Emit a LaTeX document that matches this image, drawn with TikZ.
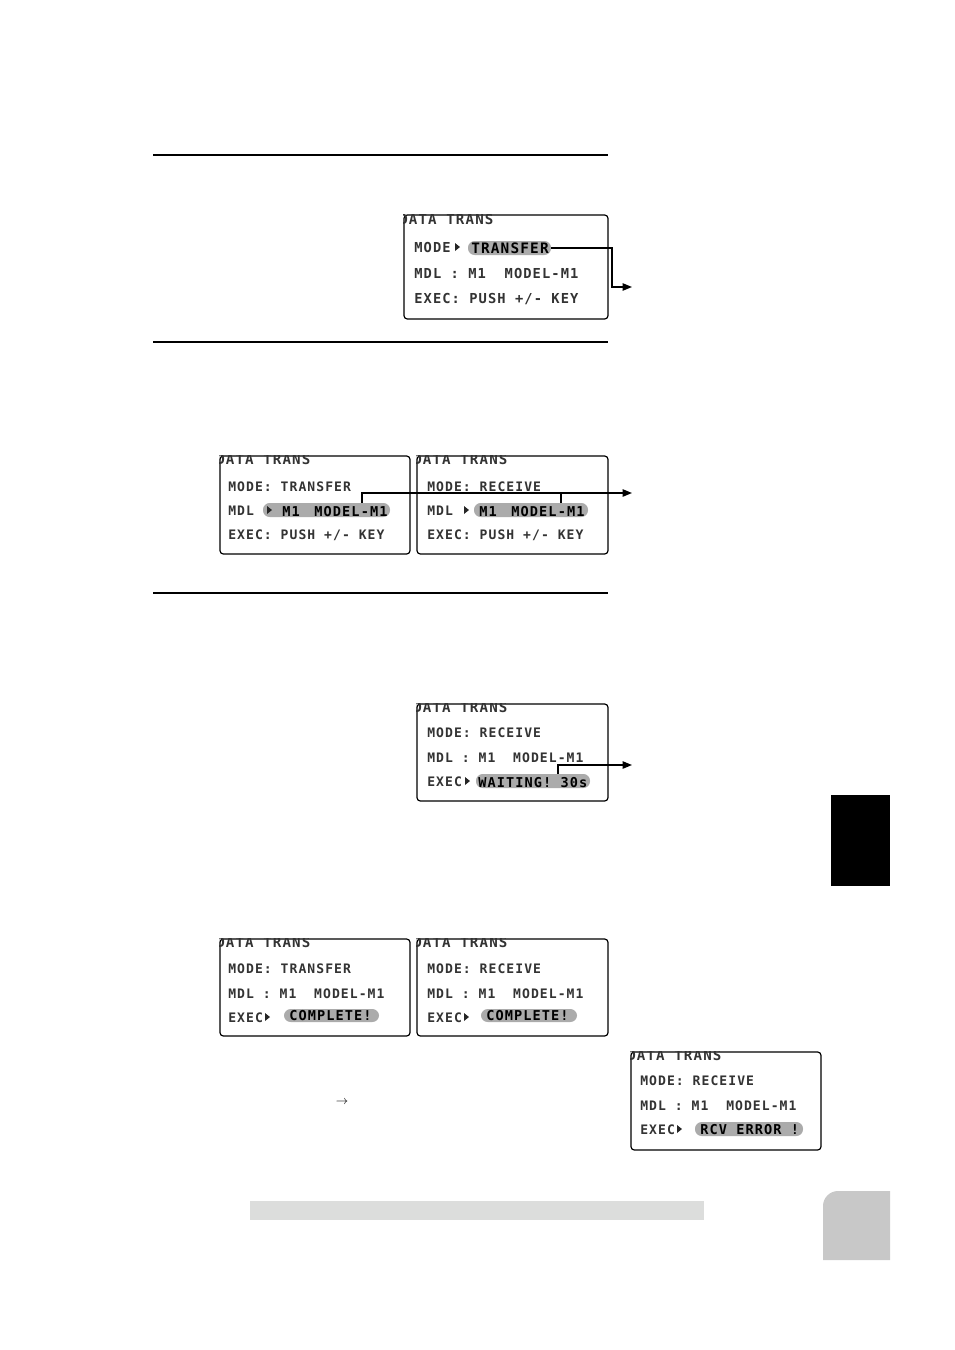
\documentclass[tikz,border=0pt]{standalone}
\usepackage{fontspec}
\newfontfamily\lcdfont[LetterSpace=8]{DejaVu Sans Mono}
\usetikzlibrary{fit,arrows.meta}
\definecolor{pillgray}{HTML}{ABABAB}
\definecolor{bargray}{HTML}{DCDDDC}
\definecolor{tabgray}{HTML}{C8C8C8}
\begin{document}
\begin{tikzpicture}[x=0.75pt,y=-0.75pt,
  screen/.style={draw=black, line width=0.9pt, rounded corners=2.5pt, inner sep=0pt},
  pill/.style={fill=pillgray, rounded corners=5pt, inner sep=0pt},
  lcd/.style={font=\lcdfont\bfseries\fontsize{9.8}{10}\selectfont, inner sep=0pt, anchor=base west, text=black!80},
  lcdA/.style={font=\lcdfont\bfseries\fontsize{10.3}{11}\selectfont, inner sep=0pt, anchor=base west, text=black!80},
  ttl/.style={font=\lcdfont\bfseries\fontsize{10.6}{11}\selectfont, inner sep=0pt, anchor=base west, text=black!80},
  hi/.style={font=\lcdfont\bfseries\fontsize{10.2}{11}\selectfont, inner sep=0pt, anchor=base west, text=black},
  hiA/.style={font=\lcdfont\bfseries\fontsize{10.8}{11}\selectfont, inner sep=0pt, anchor=base west, text=black},
  conn/.style={line width=1pt, -{Triangle[length=7pt,width=5.5pt]}},
  plain/.style={line width=1pt},
  rulel/.style={line width=0.8pt},
  lcdtri/.pic={\fill[black!85] (0,-4) -- (5,0) -- (0,4) -- cycle;}
]
\useasboundingbox (0,0) rectangle (954,1350);

% section rules
\draw[rulel] (153,155) -- (608,155);
\draw[rulel] (153,342) -- (608,342);
\draw[rulel] (153,593) -- (608,593);

% ---------- screen 1 ----------
\node[screen, fit={(404,215) (608,319)}] (s1) {};
\begin{scope}
  \clip (s1.south west) rectangle (s1.north east);
  \node[ttl] (t1) at (399,224) {DATA TRANS};
\end{scope}
\node[lcdA] (m1) at (414,252) {MODE};
\pic at (455,247) {lcdtri};
\node[pill, fit={(468,241) (551,255)}] (p1) {};
\node[hiA] (h1) at (471,253) {TRANSFER};
\node[lcdA] (d1) at (414,278) {MDL : M1\ \ MODEL-M1};
\node[lcdA] (e1) at (414,303) {EXEC: PUSH +/- KEY};
\coordinate (k1) at (612,248);
\coordinate (z1) at (632,287);
\draw[conn] (p1.east) -- (k1) |- (z1);

% ---------- screen 2a ----------
\node[screen, fit={(220,456) (410,554)}] (s2a) {};
\begin{scope}
  \clip (s2a.south west) rectangle (s2a.north east);
  \node[ttl] (t2a) at (216,464) {DATA TRANS};
\end{scope}
\node[lcd] (m2a) at (228,491) {MODE: TRANSFER};
\node[lcd] (d2a) at (228,515) {MDL};
\node[pill, fit={(263,503) (390,517)}] (p2a) {};
\pic at (267,510) {lcdtri};
\node[hi] (h2a) at (282,516) {M1\hspace{11pt}MODEL-M1};
\node[lcd] (e2a) at (228,539) {EXEC: PUSH +/- KEY};

% ---------- screen 2b ----------
\node[screen, fit={(417,456) (608,554)}] (s2b) {};
\begin{scope}
  \clip (s2b.south west) rectangle (s2b.north east);
  \node[ttl] (t2b) at (413,464) {DATA TRANS};
\end{scope}
\node[lcd] (m2b) at (427,491) {MODE: RECEIVE};
\node[lcd] (d2b) at (427,515) {MDL};
\pic at (464,510) {lcdtri};
\node[pill, fit={(474,503) (588,517)}] (p2b) {};
\node[hi] (h2b) at (479,516) {M1\hspace{11pt}MODEL-M1};
\node[lcd] (e2b) at (427,539) {EXEC: PUSH +/- KEY};

\coordinate (c2a) at (362,493);
\coordinate (c2b) at (561,493);
\coordinate (z2) at (632,493);
\draw[conn] (p2a.north -| c2a) -- (c2a) -- (z2);
\draw[plain] (p2b.north -| c2b) -- (c2b);

% ---------- screen 3 ----------
\node[screen, fit={(417,704) (608,801)}] (s3) {};
\begin{scope}
  \clip (s3.south west) rectangle (s3.north east);
  \node[ttl] (t3) at (413,712) {DATA TRANS};
\end{scope}
\node[lcd] (m3) at (427,737) {MODE: RECEIVE};
\node[lcd] (d3) at (427,762) {MDL : M1\ \ MODEL-M1};
\node[lcd] (e3) at (427,786) {EXEC};
\pic at (465,781) {lcdtri};
\node[pill, fit={(476,774) (590,788)}] (p3) {};
\node[hi] (h3) at (478,787) {WAITING! 30s};
\coordinate (c3) at (558,765);
\coordinate (z3) at (632,765);
\draw[conn] (p3.north -| c3) -- (c3) -- (z3);

% ---------- screen 4a ----------
\node[screen, fit={(220,939) (410,1036)}] (s4a) {};
\begin{scope}
  \clip (s4a.south west) rectangle (s4a.north east);
  \node[ttl] (t4a) at (216,947) {DATA TRANS};
\end{scope}
\node[lcd] (m4a) at (228,973) {MODE: TRANSFER};
\node[lcd] (d4a) at (228,998) {MDL : M1\ \ MODEL-M1};
\node[lcd] (e4a) at (228,1022) {EXEC};
\pic at (265,1017) {lcdtri};
\node[pill, fit={(284,1009) (379,1022)}] (p4a) {};
\node[hi] (h4a) at (289,1020) {COMPLETE!};

% ---------- screen 4b ----------
\node[screen, fit={(417,939) (608,1036)}] (s4b) {};
\begin{scope}
  \clip (s4b.south west) rectangle (s4b.north east);
  \node[ttl] (t4b) at (413,947) {DATA TRANS};
\end{scope}
\node[lcd] (m4b) at (427,973) {MODE: RECEIVE};
\node[lcd] (d4b) at (427,998) {MDL : M1\ \ MODEL-M1};
\node[lcd] (e4b) at (427,1022) {EXEC};
\pic at (464,1017) {lcdtri};
\node[pill, fit={(481,1009) (577,1022)}] (p4b) {};
\node[hi] (h4b) at (486,1020) {COMPLETE!};

% ---------- screen 5 ----------
\node[screen, fit={(631,1052) (821,1150)}] (s5) {};
\begin{scope}
  \clip (s5.south west) rectangle (s5.north east);
  \node[ttl] (t5) at (627,1060) {DATA TRANS};
\end{scope}
\node[lcd] (m5) at (640,1085) {MODE: RECEIVE};
\node[lcd] (d5) at (640,1110) {MDL : M1\ \ MODEL-M1};
\node[lcd] (e5) at (640,1134) {EXEC};
\pic at (677,1129) {lcdtri};
\node[pill, fit={(695,1122) (803,1136)}] (p5) {};
\node[hi] (h5) at (700,1134) {RCV ERROR !};

% small arrow text
\node[inner sep=0pt, font=\small] (arr) at (342,1102) {$\rightarrow$};

% gray bar, tabs
\fill[bargray] (250,1201) rectangle (704,1220);
\fill[black] (831,795) rectangle (890,886);
\fill[tabgray] (890,1260) -- (823,1260) -- (823,1206) arc[start angle=180, end angle=270, radius=15] -- (890,1191) -- cycle;
\end{tikzpicture}
\end{document}
